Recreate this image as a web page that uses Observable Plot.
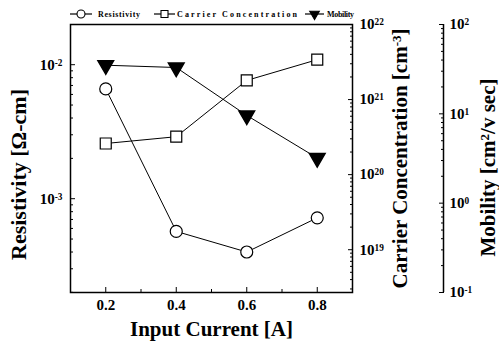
<!DOCTYPE html>
<html><head><meta charset="utf-8">
<script src="https://cdn.jsdelivr.net/npm/d3@7"></script>
<script src="https://cdn.jsdelivr.net/npm/@observablehq/plot@0.6"></script>
<style>
body{margin:0;background:#fff;}
#chart{position:relative;width:499px;height:348px;}
#chart svg{position:absolute;left:0;top:0;overflow:visible;}
</style></head><body><div id="chart"></div>
<script>
// ---- data ----
const current = [0.2, 0.4, 0.6, 0.8];
const resistivity = [6.6e-3, 5.7e-4, 4.0e-4, 7.2e-4];
const carrier = [2.6e20, 3.2e20, 1.8e21, 3.4e21];
const mobility = [35, 33, 9.6, 3.2];
const xTicks = [0.2, 0.4, 0.6, 0.8];
const xMinorTicks = [0.3, 0.5, 0.7];
const resTicks = [1e-3, 1e-2];
const carrierTicks = [1e19, 1e20, 1e21, 1e22];
const mobilityTicks = [0.1, 1, 10, 100];
const seriesNames = ["Resistivity", "Carrier Concentration", "Mobility"];
const titles = {x: "Input Current [A]", res: "Resistivity [Ω-cm]", car: "Carrier Concentration [cm^{-3}]", mob: "Mobility [cm^{2}/v sec]"};

const data = current.map((c, i) => ({current: c, resistivity: resistivity[i], carrier: carrier[i], mobility: mobility[i]}));

const W = 499, H = 348;
const FONT = "'Liberation Serif','Times New Roman',serif";
const base = {width: W, height: H, marginTop: 24, marginBottom: 56, marginLeft: 70, marginRight: 147,
  style: {background: "transparent", fontFamily: FONT, fontWeight: "bold", fontSize: "15px", color: "black", overflow: "visible"}};
const expFmt = d => "10^{" + Math.round(Math.log10(d)) + "}";
const minor = dom => d3.scaleLog().domain(dom).ticks().filter(t => Math.abs(Math.log10(t) - Math.round(Math.log10(t))) > 1e-9);

const resDom = [10 ** -3.7, 10 ** -1.7];
const carDom = [10 ** 18.43, 1e22];
const mobDom = [0.1, 100];

const A = Plot.plot({...base,
  x: {domain: [0.1, 0.9], label: null},
  y: {type: "log", domain: resDom, label: null},
  marks: [
    Plot.frame({strokeWidth: 1.5}),
    Plot.axisX({ticks: xTicks, tickSize: -5, tickPadding: 12, tickFormat: d => d.toFixed(1), fontSize: 15, label: null}),
    Plot.axisX({ticks: xMinorTicks, tickSize: -3, text: null, label: null}),
    Plot.axisY({ticks: resTicks, tickSize: -5, tickPadding: 13, tickFormat: expFmt, fontSize: 15, label: null}),
    Plot.axisY({ticks: minor(resDom), tickSize: -3, text: null, label: null}),
    Plot.line(data, {x: "current", y: "resistivity", stroke: "black", strokeWidth: 1}),
    Plot.dot(data, {x: "current", y: "resistivity", r: 6, fill: "white", stroke: "black", strokeWidth: 1.2}),
    Plot.text([titles.res], {text: d => d, frameAnchor: "left", textAnchor: "middle", dx: -52, dy: 16, rotate: -90, fontSize: 22}),
    Plot.text([titles.x], {text: d => d, frameAnchor: "bottom", textAnchor: "middle", dy: 43, fontSize: 21})
  ]});

const B = Plot.plot({...base,
  x: {domain: [0.1, 0.9], axis: null},
  y: {type: "log", domain: carDom, label: null},
  marks: [
    Plot.axisY({anchor: "right", ticks: carrierTicks, tickSize: -5, tickPadding: 12, tickFormat: expFmt, fontSize: 15, label: null}),
    Plot.axisY({anchor: "right", ticks: minor(carDom), tickSize: -3, text: null, label: null}),
    Plot.line(data, {x: "current", y: "carrier", stroke: "black", strokeWidth: 1}),
    Plot.dot(data, {x: "current", y: "carrier", symbol: "square", r: 6.2, fill: "white", stroke: "black", strokeWidth: 1.2}),
    Plot.text([titles.car], {text: d => d, frameAnchor: "right", textAnchor: "middle", dx: 48, rotate: -90, fontSize: 21})
  ]});

const C = Plot.plot({...base,
  x: {domain: [0.1, 0.9], axis: null},
  y: {type: "log", domain: mobDom, label: null},
  marks: [
    Plot.ruleX([0.9], {dx: 91, strokeWidth: 1.5}),
    Plot.axisY({anchor: "right", dx: 91, ticks: mobilityTicks, tickSize: -5, tickPadding: 11, tickFormat: expFmt, fontSize: 15, label: null}),
    Plot.axisY({anchor: "right", dx: 91, ticks: minor(mobDom), tickSize: -3, text: null, label: null}),
    Plot.line(data, {x: "current", y: "mobility", stroke: "black", strokeWidth: 1}),
    Plot.dot(data, {x: "current", y: "mobility", symbol: "triangle", rotate: 180, r: 5.8, fill: "black", stroke: "black"}),
    Plot.text([titles.mob], {text: d => d, frameAnchor: "right", textAnchor: "middle", dx: 136, dy: 9, rotate: -90, fontSize: 21})
  ]});

// superscripts
function supify(svg) {
  svg.querySelectorAll("text").forEach(t => {
    const s = t.textContent;
    if (!s.includes("^{")) return;
    const parts = s.split(/\^\{([^}]*)\}/);
    while (t.firstChild) t.removeChild(t.firstChild);
    parts.forEach((p, i) => {
      if (!p) return;
      const ts = document.createElementNS("http://www.w3.org/2000/svg", "tspan");
      ts.textContent = p;
      if (i % 2 === 1) { ts.setAttribute("baseline-shift", "45%"); ts.setAttribute("font-size", "62%"); }
      t.appendChild(ts);
    });
  });
}
const chart = document.getElementById("chart");
[A, B, C].forEach(s => { supify(s); chart.appendChild(s); });

// legend
const leg = d3.select(chart).append("svg").attr("width", W).attr("height", 30)
  .style("font-family", FONT).style("font-weight", "bold").style("font-size", "8px");
const items = [
  {name: seriesNames[0], x0: 70, x1: 92, sym: d3.symbolCircle, size: 50, fill: "white", rot: 0, tx: 98, len: 42},
  {name: seriesNames[1], x0: 154, x1: 175, sym: d3.symbolSquare, size: 49, fill: "white", rot: 0, tx: 177, len: 120},
  {name: seriesNames[2], x0: 305, x1: 324, sym: d3.symbolTriangle, size: 40, fill: "black", rot: 180, tx: 327, len: 27}
];
const y0 = 14;
items.forEach(it => {
  leg.append("line").attr("x1", it.x0).attr("x2", it.x1).attr("y1", y0).attr("y2", y0).attr("stroke", "black").attr("stroke-width", 1.2);
  leg.append("path").attr("d", d3.symbol(it.sym, it.size)()).attr("transform", `translate(${(it.x0 + it.x1) / 2},${y0}) rotate(${it.rot})`)
    .attr("fill", it.fill).attr("stroke", "black").attr("stroke-width", 1.1);
  leg.append("text").attr("x", it.tx).attr("y", y0).attr("dy", "0.32em")
    .attr("textLength", it.len).attr("lengthAdjust", "spacing").text(it.name);
});
</script></body></html>
